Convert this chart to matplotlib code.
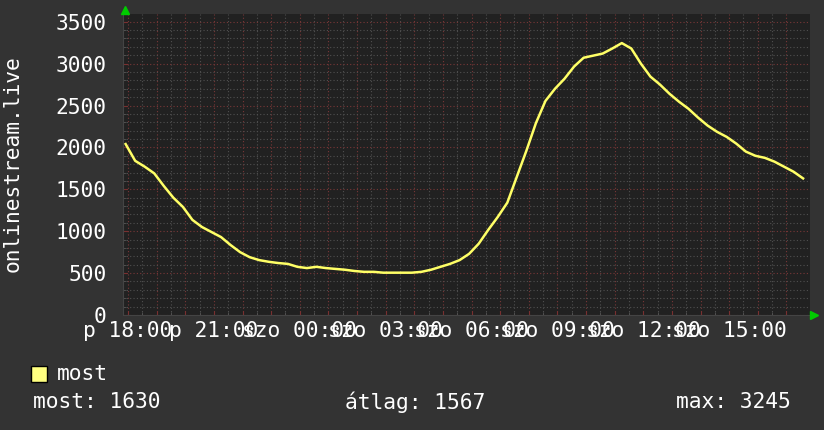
import numpy as np
import matplotlib
matplotlib.use("Agg")
import matplotlib.pyplot as plt
from matplotlib.patches import Rectangle

# viewers over one day, sampled every 20 minutes from 17:55 (friday)
start_hour = 17 + 55 / 60
step_min = 20
viewers = [
    2040, 1840, 1770, 1690, 1540, 1400, 1290, 1135, 1050, 990,
    930, 835, 750, 690, 655, 635, 620, 610, 575, 560,
    575, 560, 550, 540, 525, 515, 515, 505, 505, 505,
    505, 515, 540, 575, 610, 655, 730, 850, 1015, 1170,
    1340, 1650, 1960, 2290, 2555, 2700, 2820, 2965, 3070, 3095,
    3120, 3180, 3245, 3180, 3000, 2845, 2750, 2640, 2545, 2460,
    2355, 2260, 2185, 2125, 2045, 1950, 1900, 1875, 1830, 1770,
    1710, 1630,
]

label_hours = [18, 21, 24, 27, 30, 33, 36, 39]
label_texts = ["p 18:00", "p 21:00", "szo 00:00", "szo 03:00",
               "szo 06:00", "szo 09:00", "szo 12:00", "szo 15:00"]
y_ticks = [0, 500, 1000, 1500, 2000, 2500, 3000, 3500]

series_name = "most"
stat_now = 1630
stat_avg = 1567
stat_max = 3245

W, H = 824, 430
bg = "#333333"
plot_bg = "#212121"
font = "DejaVu Sans Mono"
fs = 15.3

times = start_hour + np.arange(len(viewers)) * step_min / 60

fig = plt.figure(figsize=(W / 100, H / 100), dpi=100, facecolor=bg)
ax = fig.add_axes([123 / W, 1 - 315 / H, 687 / W, 301 / H], facecolor=plot_bg)

ax.plot(times, viewers, color="#ffff66", lw=1.8, zorder=3)

ax.set_xlim(17.825, 41.825)
ax.set_ylim(0, 3592)

# hourly major grid, labels only every 3 hours
hours = np.arange(18, 42)
lab = dict(zip(label_hours, label_texts))
ax.set_xticks(hours, [lab.get(h, "") for h in hours])
ax.set_xticks(hours[:-1] + 0.5, minor=True)
ax.set_yticks(y_ticks, [str(v) for v in y_ticks])
ax.set_yticks(np.arange(100, 3600, 100), minor=True)

dots = (0, (1, 2))
ax.grid(which="major", color="#793737", ls=dots, lw=0.8)
ax.grid(which="minor", color="#505050", ls=dots, lw=0.8)
ax.set_axisbelow(True)

for s in ["top", "right"]:
    ax.spines[s].set_visible(False)
for s in ["left", "bottom"]:
    ax.spines[s].set_color("#444444")

ax.tick_params(which="major", colors="#7a3030", direction="in", length=3,
               labelcolor="white", labelsize=fs, labelfontfamily=font)
ax.tick_params(which="minor", colors="#555555", direction="in", length=2)
ax.tick_params(axis="x", pad=4)
ax.tick_params(axis="y", pad=12)

fig.text(13 / W, 1 - 164 / H, "onlinestream.live", rotation=90, color="white",
         fontsize=fs, family=font, ha="center", va="center")

# green arrow heads at the axis ends
fig.lines.append(plt.Line2D([125 / W], [1 - 10 / H], marker="^", ms=6,
                            color="#00cc00", transform=fig.transFigure))
fig.lines.append(plt.Line2D([814 / W], [1 - 315 / H], marker=">", ms=6,
                            color="#00cc00", transform=fig.transFigure))

# legend
fig.add_artist(Rectangle((31 / W, 1 - 382 / H), 16 / W, 16 / H,
                         transform=fig.transFigure, fc="#ffff80", ec="black", lw=1))
fig.text(57 / W, 1 - 374 / H, series_name, color="white", fontsize=fs,
         family=font, va="center")
fig.text(33 / W, 1 - 402 / H, f"most: {stat_now}", color="white", fontsize=fs,
         family=font, va="center")
fig.text(345 / W, 1 - 402 / H, f"átlag: {stat_avg}", color="white", fontsize=fs,
         family=font, va="center")
fig.text(791 / W, 1 - 402 / H, f"max: {stat_max}", color="white", fontsize=fs,
         family=font, va="center", ha="right")

fig.savefig("out.png", dpi=100, facecolor=bg)
